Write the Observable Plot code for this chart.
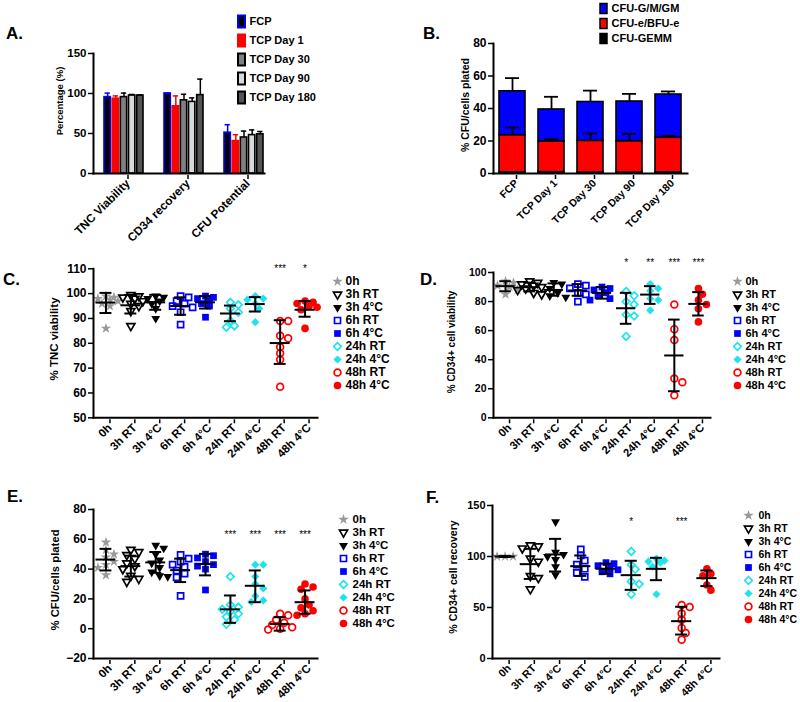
<!DOCTYPE html>
<html><head><meta charset="utf-8">
<script src="https://cdn.jsdelivr.net/npm/d3@7"></script>
<script src="https://cdn.jsdelivr.net/npm/@observablehq/plot@0.6"></script>
<style>
html,body{margin:0;padding:0;background:#fff;}
#page{position:relative;width:800px;height:702px;overflow:hidden;font-family:"Liberation Sans",Arial,sans-serif;font-weight:bold;color:#000;}
#page svg{position:absolute;left:0;top:0;}
.lbl{position:absolute;font-size:17px;font-weight:bold;line-height:1;transform:translateY(-50%);}
.ytitle{position:absolute;white-space:nowrap;transform:translate(-50%,-50%) rotate(-90deg);font-weight:bold;line-height:1;}
</style></head><body><div id="page"></div>
<script>
// ---------------- DATA ----------------
// Panel A
const aCats = ["TNC Viability", "CD34 recovery", "CFU Potential"];
const aSeries = ["FCP", "TCP Day 1", "TCP Day 30", "TCP Day 90", "TCP Day 180"];
const aMean = [
  [95.5, 100, 51],
  [93.5, 84, 40.5],
  [95.5, 91.5, 45],
  [97.5, 89.5, 48],
  [97.5, 98, 49]
];
const aErrTop = [
  [100.5, 100.5, 61],
  [97, 97, 48.5],
  [100.5, 99, 53],
  [98.8, 94.5, 54.5],
  [98, 118, 52.5]
];
// Panel B
const bCats = ["FCP", "TCP Day 1", "TCP Day 30", "TCP Day 90", "TCP Day 180"];
const bComps = ["CFU-GEMM", "CFU-e/BFU-e", "CFU-G/M/GM"];
const bLegend = ["CFU-G/M/GM", "CFU-e/BFU-e", "CFU-GEMM"];
const bGemm = [0.7, 0.8, 0.6, 0.6, 0.7];
const bEry = [22.9, 18.9, 19.5, 19.3, 21.3];
const bGm = [27, 19.7, 23.9, 24.4, 26.6];
const bErySD = [4.7, 1.4, 4.5, 4.5, 1.2];
const bGmSD = [8.1, 7.8, 7, 4.7, 1.9];
// Panels C-F
const groups = ["0h", "3h RT", "3h 4°C", "6h RT", "6h 4°C", "24h RT", "24h 4°C", "48h RT", "48h 4°C"];
// C: % TNC viability
const tncPts = [
  [99, 98.5, 98, 97.5, 97, 96, 95, 86],
  [99.5, 99, 98.5, 98, 97, 96, 95, 93, 87],
  [99, 98.5, 98, 97, 96, 94, 90],
  [99, 98.5, 97, 96, 95, 94.5, 92.5, 87.5],
  [99, 98.5, 98, 97.5, 96, 95, 90.5],
  [96.5, 95.5, 94, 92.5, 89, 87, 86.5],
  [99, 98, 97.5, 96, 94, 88.5],
  [89, 89, 83, 82, 78.5, 76, 73.5, 62.5],
  [97, 96.5, 96, 95, 94.5, 93.5, 86]
];
const tncMean = [96.4, 95.3, 96.5, 95, 96.5, 92, 95.8, 80.1, 93.5];
const tncLo = [92.2, 92, 93.5, 91.5, 94, 88.9, 92.8, 71.7, 90.7];
const tncHi = [100.3, 99.5, 99.5, 98.5, 99, 95.2, 98.6, 89.3, 97];
const tncStarGroups = ["48h RT", "48h 4°C"];
const tncStarText = ["***", "*"];
const tncStarY = 110;
// D: % CD34+ cell viability
const cd34Pts = [
  [94, 93, 91, 90, 88, 85],
  [94, 93, 92, 91, 90, 89, 88, 86, 85],
  [93, 92, 89, 86, 84, 83],
  [92, 91, 89, 86, 85, 80],
  [90, 89, 88, 86, 84, 82, 81],
  [87, 84, 80, 78, 71, 70, 56],
  [92, 89, 87.5, 82, 81, 74],
  [78, 61, 53.5, 27, 24.5, 15.5],
  [89, 85, 81, 78, 75, 66]
];
const cd34Mean = [90.6, 89.9, 88, 87.6, 86, 75.4, 84.8, 42.9, 78.4];
const cd34Lo = [87.1, 87, 84, 84, 82, 64.7, 78.4, 18.3, 70.4];
const cd34Hi = [94, 93, 92.5, 92, 90, 86, 90.6, 67.6, 86.5];
const cd34StarGroups = ["24h RT", "24h 4°C", "48h RT", "48h 4°C"];
const cd34StarText = ["*", "**", "***", "***"];
const cd34StarY = 106.5;
// E: % CFU/cells plated
const cfuPts = [
  [58, 53, 50, 48, 45, 43, 41, 36],
  [53, 51.5, 49.5, 47, 44, 42, 40, 35.5, 33.5, 31.5],
  [56, 54, 50, 46, 44, 41, 38, 35.5, 35],
  [49.5, 47, 45, 43, 41.5, 39, 37, 34.5, 22],
  [50, 49, 47.5, 45, 43, 42, 40, 26],
  [35, 16, 14.5, 13, 11.5, 10, 8, 6, 3],
  [43, 43, 35, 30, 27, 22, 19, 18],
  [10, 9, 6, 4, 2.5, 1, 0, -0.5],
  [30, 28, 26.5, 20, 16, 14, 12, 10, 9]
];
const cfuMean = [46.4, 42, 44.5, 39.3, 43.4, 13, 28.8, 3.2, 17.8];
const cfuLo = [39.1, 35, 37.5, 31.3, 35.8, 3.9, 17.8, -1.3, 10];
const cfuHi = [53.6, 49, 51.5, 47, 50.2, 22.3, 39.1, 7.7, 25.7];
const cfuStarGroups = ["24h RT", "24h 4°C", "48h RT", "48h 4°C"];
const cfuStarText = ["***", "***", "***", "***"];
const cfuStarY = 63;
// F: % CD34+ cell recovery
const recPts = [
  [100, 100, 100],
  [111, 110, 108, 98, 95, 81, 79, 68],
  [134, 104, 102, 100, 97, 90, 82],
  [107, 101, 96, 92, 88, 84, 80],
  [94, 93, 91, 89, 87, 85, 83],
  [105, 92, 87.5, 75.5, 73, 63],
  [98, 96, 95, 94, 90, 63],
  [52.5, 50.5, 44, 38, 30, 25, 18.5],
  [88, 83, 81, 72, 67]
];
const recMean = [100, 92.5, 102, 90.5, 88, 81.7, 87.9, 36.6, 78.8];
const recLo = [99.5, 78, 85.3, 81, 83, 67.3, 76.8, 23.5, 71];
const recHi = [100.5, 107.5, 117.3, 101, 93, 95.8, 98.7, 50.7, 86.3];
const recStarGroups = ["24h RT", "48h RT"];
const recStarText = ["*", "***"];
const recStarY = 133.7;

// ---------------- STYLES ----------------
const W = 800, H = 702;
const FONT = '"Liberation Sans", Arial, sans-serif';
const BLUE = "#0000ff", RED = "#ff0000", CYAN = "#1ee3ef", GRAY = "#999999";
const triDown = {
  draw(ctx, size) {
    const y = -Math.sqrt(size / (3 * Math.sqrt(3)));
    ctx.moveTo(0, -2 * y);
    ctx.lineTo(-Math.sqrt(3) * y, y);
    ctx.lineTo(Math.sqrt(3) * y, y);
    ctx.closePath();
  }
};
const swatchA = {draw(ctx) { ctx.rect(-3.5, -6, 7, 12); }};
const swatchB = {draw(ctx) { ctx.rect(-3.5, -5, 7, 10); }};
const groupStyle = [
  {symbol: "star", fill: GRAY, stroke: "none", r: 3.3, sw: 0},
  {symbol: triDown, fill: "none", stroke: "black", r: 3.0, sw: 1.7},
  {symbol: triDown, fill: "black", stroke: "none", r: 3.3, sw: 0},
  {symbol: "square", fill: "none", stroke: BLUE, r: 3.4, sw: 1.7},
  {symbol: "square", fill: BLUE, stroke: "none", r: 3.8, sw: 0},
  {symbol: "diamond2", fill: "none", stroke: CYAN, r: 3.4, sw: 1.7},
  {symbol: "diamond2", fill: CYAN, stroke: "none", r: 3.7, sw: 0},
  {symbol: "circle", fill: "none", stroke: RED, r: 3.4, sw: 1.7},
  {symbol: "circle", fill: RED, stroke: "none", r: 3.8, sw: 0}
];
const aFill = ["#000000", RED, "#808080", "#d9d9d9", "#555555"];
const aStroke = [BLUE, RED, "#000", "#000", "#000"];
const bColor = {domain: bComps, range: ["#000000", RED, BLUE]};

function base(l, r, t, b) {
  return {
    width: W, height: H,
    marginLeft: l, marginRight: W - r, marginTop: t, marginBottom: H - b,
    style: {fontFamily: FONT, fontWeight: "bold", background: "none", overflow: "visible", color: "#000", maxWidth: "none"}
  };
}
const page = document.getElementById("page");
function add(el) { page.appendChild(el); }
function label(text, x, y) {
  const d = document.createElement("div");
  d.className = "lbl"; d.textContent = text;
  d.style.left = x + "px"; d.style.top = y + "px";
  page.appendChild(d);
}
function ytitle(text, cx, cy, size) {
  const d = document.createElement("div");
  d.className = "ytitle"; d.textContent = text;
  d.style.left = cx + "px"; d.style.top = cy + "px"; d.style.fontSize = size + "px";
  page.appendChild(d);
}
// rotated x tick label options shared by all panels
function xAxisOpts(fontSize) {
  return {tickRotate: -45, tickSize: 4, strokeWidth: 1.5, fontSize, fontWeight: "bold", tickPadding: 2, dx: 4, dy: 2, label: null};
}

// deterministic beeswarm offsets (in x data units)
function swarm(vals, pxY, pxX) {
  const idx = vals.map((v, i) => i).sort((a, b) => vals[b] - vals[a]);
  const placed = [], out = new Array(vals.length);
  const cands = [0, 4, -4, 8, -8, 12, -12];
  for (const i of idx) {
    const y = vals[i] * pxY;
    let best = 0, bestD = -1;
    for (const c of cands) {
      let dmin = Infinity;
      for (const p of placed) dmin = Math.min(dmin, Math.hypot(p.x - c, p.y - y));
      if (dmin >= 6) { best = c; break; }
      if (dmin > bestD) { bestD = dmin; best = c; }
    }
    placed.push({x: best, y});
    out[i] = best / pxX;
  }
  return out;
}

// ---------------- PANEL A ----------------
(function () {
  const L = 93, R = 264, T = 53, B = 173;
  const xr = [103, 264], pad = 0.32;
  const bw = (xr[1] - xr[0]) / (aCats.length - pad) * (1 - pad);
  const slot = bw / aSeries.length;
  const marks = [];
  aSeries.forEach((s, si) => {
    const rows = aCats.map((c, ci) => ({cat: c, v: aMean[si][ci], e: aErrTop[si][ci]}));
    marks.push(Plot.barY(rows, {x: "cat", y: "v", fill: aFill[si], stroke: aStroke[si], strokeWidth: 1.6,
      insetLeft: si * slot + 1, insetRight: (aSeries.length - 1 - si) * slot + 1}));
    marks.push(Plot.ruleX(rows, {x: "cat", y1: "v", y2: "e", dx: (si - (aSeries.length - 1) / 2) * slot, stroke: aStroke[si], strokeWidth: 1.5}));
    marks.push(Plot.tickY(rows, {x: "cat", y: "e", stroke: aStroke[si], strokeWidth: 1.5,
      insetLeft: si * slot + 1.5, insetRight: (aSeries.length - 1 - si) * slot + 1.5}));
  });
  marks.push(
    Plot.frame({anchor: "left", strokeWidth: 2}),
    Plot.frame({anchor: "bottom", strokeWidth: 2}),
    Plot.axisX(xAxisOpts(11.8)),
    Plot.axisY([0, 50, 100, 150], {tickSize: 5, strokeWidth: 1.5, fontSize: 11.5, fontWeight: "bold", tickPadding: 2, label: null})
  );
  add(Plot.plot({...base(L, R, T, B), x: {domain: aCats, range: xr, paddingInner: pad, paddingOuter: 0}, y: {domain: [0, 150]}, marks}));
  // legend
  add(Plot.plot({...base(241, 330, 20, 98), y: {type: "point", domain: aSeries, padding: 0, axis: null},
    marks: [
      ...aSeries.map((s, i) => Plot.dot([s], {y: d => d, frameAnchor: "left", symbol: swatchA, fill: aFill[i], stroke: aStroke[i], strokeWidth: 2})),
      Plot.text(aSeries, {y: d => d, text: d => d, frameAnchor: "left", dx: 8, textAnchor: "start", fontSize: 11, fontWeight: "bold"})
    ]}));
  label("A.", 6, 33);
  ytitle("Percentage (%)", 60, 101, 9.5);
})();

// ---------------- PANEL B ----------------
(function () {
  const L = 493, R = 687, T = 43, B = 173;
  const rows = [];
  bCats.forEach((c, i) => {
    rows.push({cat: c, comp: "CFU-GEMM", v: bGemm[i]});
    rows.push({cat: c, comp: "CFU-e/BFU-e", v: bEry[i]});
    rows.push({cat: c, comp: "CFU-G/M/GM", v: bGm[i]});
  });
  const err = bCats.map((c, i) => {
    const eryTop = bGemm[i] + bEry[i];
    const tot = eryTop + bGm[i];
    return {cat: c, eryTop, eryErr: eryTop + bErySD[i], tot, totErr: tot + bGmSD[i]};
  });
  add(Plot.plot({...base(L, R, T, B),
    x: {domain: bCats, range: [L, R], paddingInner: 0.34, paddingOuter: 0.13},
    y: {domain: [0, 80]}, color: bColor,
    marks: [
      Plot.barY(rows, {x: "cat", y: "v", fill: "comp", z: "comp", order: null, stroke: "black", strokeWidth: 1.6}),
      Plot.ruleX(err, {x: "cat", y1: "tot", y2: "totErr", strokeWidth: 1.8}),
      Plot.tickY(err, {x: "cat", y: "totErr", strokeWidth: 1.8, insetLeft: 6, insetRight: 6}),
      Plot.ruleX(err, {x: "cat", y1: "eryTop", y2: "eryErr", strokeWidth: 1.8}),
      Plot.tickY(err, {x: "cat", y: "eryErr", strokeWidth: 1.8, insetLeft: 6, insetRight: 6}),
      Plot.frame({anchor: "left", strokeWidth: 2}),
      Plot.frame({anchor: "bottom", strokeWidth: 2}),
      Plot.axisX(xAxisOpts(10.5)),
      Plot.axisY([0, 20, 40, 60, 80], {tickSize: 5, strokeWidth: 1.5, fontSize: 12, fontWeight: "bold", tickPadding: 2, label: null})
    ]}));
  add(Plot.plot({...base(603, 700, 7.5, 39), y: {type: "point", domain: bLegend, padding: 0, axis: null}, color: bColor,
    marks: [
      Plot.dot(bLegend, {y: d => d, frameAnchor: "left", symbol: swatchB, fill: d => d, stroke: "black", strokeWidth: 1.5}),
      Plot.text(bLegend, {y: d => d, text: d => d, frameAnchor: "left", dx: 8, textAnchor: "start", fontSize: 11, fontWeight: "bold"})
    ]}));
  label("B.", 423, 33);
  ytitle("% CFU/cells plated", 465, 105, 10.5);
})();

// ---------------- DOT PANELS ----------------
function dotPanel(cfg) {
  const {L, R, T, B, ymin, ymax, yticks, pts, mean, lo, hi, starGroups, starText, starY, xFont, yFont} = cfg;
  const pxX = (R - L) / groups.length, pxY = (B - T) / (ymax - ymin);
  const marks = [];
  pts.forEach((vals, gi) => {
    const offs = swarm(vals, pxY, pxX);
    const rows = vals.map((v, k) => ({x: gi + offs[k], y: v}));
    const st = groupStyle[gi];
    marks.push(Plot.dot(rows, {x: "x", y: "y", r: st.r, symbol: st.symbol, fill: st.fill, stroke: st.stroke, strokeWidth: st.sw}));
  });
  const stats = groups.map((g, i) => ({i, mean: mean[i], lo: lo[i], hi: hi[i]}));
  const stars = starGroups.map((g, k) => ({i: groups.indexOf(g), t: starText[k], y: starY}));
  marks.push(
    Plot.ruleY(stats, {x1: d => d.i - 0.4, x2: d => d.i + 0.4, y: "mean", strokeWidth: 2}),
    Plot.ruleX(stats, {x: "i", y1: "lo", y2: "hi", strokeWidth: 2}),
    Plot.ruleY(stats, {x1: d => d.i - 0.24, x2: d => d.i + 0.24, y: "lo", strokeWidth: 2}),
    Plot.ruleY(stats, {x1: d => d.i - 0.24, x2: d => d.i + 0.24, y: "hi", strokeWidth: 2}),
    Plot.text(stars, {x: "i", y: "y", text: "t", fontSize: 10, fontWeight: "normal", fill: "black"}),
    Plot.frame({anchor: "left", strokeWidth: 2}),
    Plot.frame({anchor: "bottom", strokeWidth: 2}),
    Plot.axisX(d3.range(groups.length), {...xAxisOpts(xFont), tickFormat: i => groups[i]}),
    Plot.axisY(yticks, {tickSize: 5, strokeWidth: 1.5, fontSize: yFont, fontWeight: "bold", tickPadding: 2, label: null})
  );
  return Plot.plot({...base(L, R, T, B), x: {domain: [-0.5, groups.length - 0.5]}, y: {domain: [ymin, ymax]}, marks});
}
function dotLegend(x, t, b, fontSize, dx) {
  return Plot.plot({...base(x, x + 70, t, b), y: {type: "point", domain: groups, padding: 0, axis: null},
    marks: [
      ...groups.map((g, gi) => {
        const st = groupStyle[gi];
        return Plot.dot([g], {y: d => d, frameAnchor: "left", r: st.r, symbol: st.symbol, fill: st.fill, stroke: st.stroke, strokeWidth: st.sw});
      }),
      Plot.text(groups, {y: d => d, text: d => d, frameAnchor: "left", dx, textAnchor: "start", fontSize, fontWeight: "bold"})
    ]});
}

// C
add(dotPanel({L: 93, R: 317, T: 268.3, B: 417.3, ymin: 50, ymax: 110, yticks: [50, 60, 70, 80, 90, 100, 110],
  pts: tncPts, mean: tncMean, lo: tncLo, hi: tncHi, starGroups: tncStarGroups, starText: tncStarText, starY: tncStarY, xFont: 11.5, yFont: 12}));
add(dotLegend(337, 279.5, 385.5, 12, 8));
label("C.", 3, 279);
ytitle("% TNC viability", 55, 339, 11.5);
// D
add(dotPanel({L: 493, R: 710, T: 272, B: 417.3, ymin: 0, ymax: 100, yticks: [0, 20, 40, 60, 80, 100],
  pts: cd34Pts, mean: cd34Mean, lo: cd34Lo, hi: cd34Hi, starGroups: cd34StarGroups, starText: cd34StarText, starY: cd34StarY, xFont: 11.2, yFont: 10.5}));
add(dotLegend(737, 280.5, 385.5, 11, 8));
label("D.", 420, 279);
ytitle("% CD34+ cell viability", 452, 342, 10);
// E
add(dotPanel({L: 93, R: 317, T: 509, B: 658, ymin: -20, ymax: 80, yticks: [-20, 0, 20, 40, 60, 80],
  pts: cfuPts, mean: cfuMean, lo: cfuLo, hi: cfuHi, starGroups: cfuStarGroups, starText: cfuStarText, starY: cfuStarY, xFont: 11.5, yFont: 12}));
add(dotLegend(343, 516.5, 624.5, 11.5, 9));
label("E.", 7, 496);
ytitle("% CFU/cells plated", 56, 580, 11.3);
// F
add(dotPanel({L: 492, R: 719, T: 505, B: 658, ymin: 0, ymax: 150, yticks: [0, 50, 100, 150],
  pts: recPts, mean: recMean, lo: recLo, hi: recHi, starGroups: recStarGroups, starText: recStarText, starY: recStarY, xFont: 10.8, yFont: 11}));
add(dotLegend(748, 512.5, 622, 10.5, 10));
label("F.", 426, 497);
ytitle("% CD34+ cell recovery", 453, 577, 10.6);
</script></body></html>
